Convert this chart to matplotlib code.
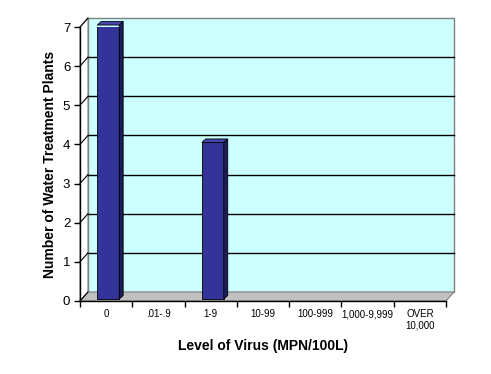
import matplotlib.pyplot as plt
from matplotlib.patches import Polygon

plt.rcParams['font.family'] = ['Liberation Sans', 'DejaVu Sans']

# data
categories = ['0', '.01-.9', '1-9', '10-99', '100-999', '1,000-9,999', 'OVER\n10,000']
plants = [7, 0, 4, 0, 0, 0, 0]
y_ticks = [0, 1, 2, 3, 4, 5, 6, 7]

# fake 3d depth (data units)
wall_dx, wall_dy = 0.153, 0.23
bar_dx, bar_dy = 0.076, 0.09
bar_sx, bar_sy = 0.04, 0.05
bar_w = 0.42

fig = plt.figure(figsize=(4.91, 3.74), dpi=100)
ax = fig.add_axes([0.1629, 0.1952, 0.7454, 0.7326])
ax.set_xlim(-0.5, len(categories) - 0.5)
ax.set_ylim(0, 7)
ax.patch.set_visible(False)

x0, x1 = -0.5, len(categories) - 0.5
ytop = max(y_ticks)

# back wall
ax.add_patch(Polygon([(x0 + wall_dx, wall_dy), (x1 + wall_dx, wall_dy),
                      (x1 + wall_dx, ytop + wall_dy), (x0 + wall_dx, ytop + wall_dy)],
                     closed=True, facecolor='#CCFFFF', edgecolor='#808080', lw=1,
                     clip_on=False, zorder=0))
# floor
ax.add_patch(Polygon([(x0, 0), (x1, 0), (x1 + wall_dx, wall_dy), (x0 + wall_dx, wall_dy)],
                     closed=True, facecolor='#C0C0C0', edgecolor='#808080', lw=0.8,
                     clip_on=False, zorder=0.5))
# left wall
ax.add_patch(Polygon([(x0, 0), (x0 + wall_dx, wall_dy), (x0 + wall_dx, ytop + wall_dy), (x0, ytop)],
                     closed=True, facecolor='white', edgecolor='#808080', lw=0.8,
                     clip_on=False, zorder=0.5))

# gridlines on back wall + slanted lines on left wall
for t in y_ticks:
    if 0 < t < ytop:
        ax.plot([x0 + wall_dx, x1 + wall_dx], [t + wall_dy, t + wall_dy],
                color='black', lw=1, clip_on=False, zorder=1)
    ax.plot([x0, x0 + wall_dx], [t, t + wall_dy], color='black', lw=0.8,
            clip_on=False, zorder=1)

# bars (zero bars get no outline)
xs = range(len(categories))
front = [x + bar_sx for x in xs]
edges = ['black' if v > 0 else 'none' for v in plants]
ax.bar(front, plants, width=bar_w, bottom=bar_sy, color='#333399',
       edgecolor=edges, lw=0.6, zorder=3)
for x, v in zip(front, plants):
    if v == 0:
        continue
    l, r, t = x - bar_w / 2, x + bar_w / 2, v + bar_sy
    ax.add_patch(Polygon([(r, bar_sy), (r + bar_dx, bar_sy + bar_dy),
                          (r + bar_dx, t + bar_dy), (r, t)],
                         closed=True, facecolor='#1C1C5A', edgecolor='black', lw=0.6,
                         clip_on=False, zorder=3))
    ax.add_patch(Polygon([(l, t), (r, t), (r + bar_dx, t + bar_dy), (l + bar_dx, t + bar_dy)],
                         closed=True, facecolor='#4646AE', edgecolor='black', lw=0.6,
                         clip_on=False, zorder=3))

for s in ['top', 'right']:
    ax.spines[s].set_visible(False)
for s in ['left', 'bottom']:
    ax.spines[s].set_color('black')
    ax.spines[s].set_linewidth(1)
    ax.spines[s].set_zorder(4)

ax.set_yticks(y_ticks)
ax.tick_params(axis='y', length=4, width=1, pad=3, labelsize=9.5)
ax.set_xticks(list(xs))
ax.set_xticklabels(categories, fontsize=7, linespacing=1.15)
ax.set_xticks([x - 0.5 for x in range(len(categories) + 1)], minor=True)
ax.tick_params(axis='x', which='major', length=0, pad=6, labelsize=7)
ax.tick_params(axis='x', which='minor', length=4, width=1)

ax.set_xlabel('Level of Virus (MPN/100L)', fontsize=10, fontweight='bold', labelpad=6)
ax.set_ylabel('Number of Water Treatment Plants', fontsize=10, fontweight='bold', labelpad=4)

fig.savefig('out.png', dpi=100)
